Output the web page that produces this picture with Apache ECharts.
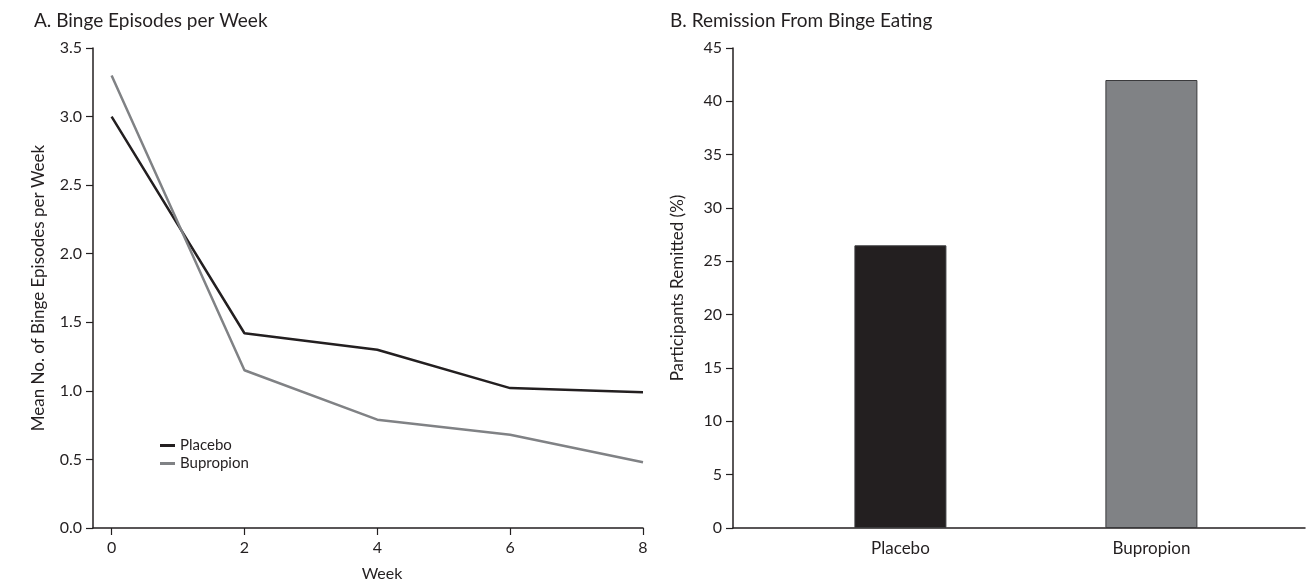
<!DOCTYPE html>
<html><head><meta charset="utf-8">
<script src="https://cdn.jsdelivr.net/npm/echarts@6/dist/echarts.min.js"></script>
<style>html,body{margin:0;padding:0;background:#fff}#c{width:1314px;height:588px}</style>
</head><body><div id="c"></div>
<script>
var weeks = [0, 2, 4, 6, 8];
var placeboEpisodes = [3.0, 1.42, 1.30, 1.02, 0.99];
var bupropionEpisodes = [3.3, 1.15, 0.79, 0.68, 0.48];
var groups = ['Placebo', 'Bupropion'];
var remitted = [26.5, 42.0];
var weekTicks = [0, 2, 4, 6, 8];

var FONT = 'Lato';
var INK = '#231f20';
var GREY = '#808285';
function axisLine() { return {show: true, onZero: false, lineStyle: {color: INK, width: 1.5}}; }
var axisTick = {show: true, length: 7, lineStyle: {color: INK, width: 1.2}};
var lbl = {color: INK, fontFamily: FONT, fontSize: 16};
var nameStyle = {color: INK, fontFamily: FONT, fontSize: 17};

var chart = echarts.init(document.getElementById('c'));
chart.setOption({
  animation: false,
  title: [
    {text: 'A. Binge Episodes per Week', left: 29, top: 6, textStyle: {color: INK, fontFamily: FONT, fontSize: 19, fontWeight: 'normal'}},
    {text: 'B. Remission From Binge Eating', left: 665, top: 6, textStyle: {color: INK, fontFamily: FONT, fontSize: 19, fontWeight: 'normal'}},
    {text: 'Week', left: 377, top: 561, textAlign: 'center', textStyle: {color: INK, fontFamily: FONT, fontSize: 16, fontWeight: 'normal'}}
  ],
  legend: {
    data: ['Placebo', 'Bupropion'], orient: 'vertical', left: 155, top: 433,
    itemWidth: 15, itemHeight: 3, itemGap: 3, icon: 'rect',
    textStyle: {color: INK, fontFamily: FONT, fontSize: 15}
  },
  grid: [
    {left: 93, right: 671, top: 48, bottom: 60},
    {left: 733, right: 9, top: 48, bottom: 60}
  ],
  xAxis: [
    {type: 'value', gridIndex: 0, min: -0.28, max: 8, splitLine: {show: false},
     axisLine: axisLine(), axisTick: Object.assign({customValues: weekTicks}, axisTick),
     axisLabel: Object.assign({customValues: weekTicks, margin: 12}, lbl)},
    {type: 'value', gridIndex: 1, min: -0.667, max: 1.612, splitLine: {show: false},
     axisLine: axisLine(), axisTick: {show: false},
     axisLabel: Object.assign({customValues: [0, 1], margin: 12, formatter: function (v) { return groups[Math.round(v)]; }}, lbl, {fontSize: 17})}
  ],
  yAxis: [
    {type: 'value', gridIndex: 0, min: 0, max: 3.5, interval: 0.5, splitLine: {show: false},
     axisLine: axisLine(), axisTick: axisTick,
     axisLabel: Object.assign({margin: 11, formatter: function (v) { return v.toFixed(1); }}, lbl),
     name: 'Mean No. of Binge Episodes per Week', nameLocation: 'middle', nameGap: 46,
     nameTextStyle: nameStyle},
    {type: 'value', gridIndex: 1, min: 0, max: 45, interval: 5, splitLine: {show: false},
     axisLine: axisLine(), axisTick: axisTick,
     axisLabel: Object.assign({margin: 11}, lbl),
     name: 'Participants Remitted (%)', nameLocation: 'middle', nameGap: 47,
     nameTextStyle: nameStyle}
  ],
  series: [
    {name: 'Placebo', type: 'line', xAxisIndex: 0, yAxisIndex: 0, symbol: 'none',
     lineStyle: {color: INK, width: 2.5}, itemStyle: {color: INK},
     data: weeks.map(function (w, i) { return [w, placeboEpisodes[i]]; })},
    {name: 'Bupropion', type: 'line', xAxisIndex: 0, yAxisIndex: 0, symbol: 'none',
     lineStyle: {color: GREY, width: 2.5}, itemStyle: {color: GREY},
     data: weeks.map(function (w, i) { return [w, bupropionEpisodes[i]]; })},
    {name: 'Remitted', type: 'bar', xAxisIndex: 1, yAxisIndex: 1, barWidth: 92,
     data: remitted.map(function (v, i) {
       return {value: [i, v], itemStyle: {color: i === 0 ? INK : GREY, borderColor: '#3a3a3c', borderWidth: 1}};
     })}
  ]
});
</script></body></html>
